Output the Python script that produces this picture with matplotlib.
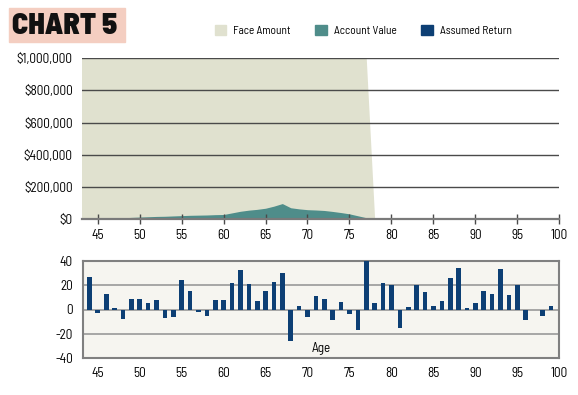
import matplotlib
matplotlib.use('Agg')
import matplotlib.pyplot as plt
from matplotlib.patches import Patch, Rectangle
from matplotlib.ticker import FuncFormatter

# Data
face_ages = list(range(43, 79))
face_amount = [1_000_000] * 35 + [0]

account_ages = list(range(43, 79))
account_value = [0, 0, 1000, 2000, 4000, 7000, 10000, 12000, 14000, 16000,
                 17000, 19000, 21000, 23000, 24000, 25000, 27000, 28000,
                 38000, 48000, 55000, 60000, 67000, 80000, 96000, 70000,
                 63000, 58000, 56000, 53000, 47000, 40000, 32000, 20000,
                 8000, 0]

return_ages = list(range(44, 100))
assumed_return = [27, -3, 13, 1.5, -8, 9, 9, 5, 8, -7,
                  -6, 24, 15, -2, -5, 8, 8, 22, 32, 21,
                  7, 15, 22.5, 30, -26, 3, -6, 11, 9, -9,
                  6, -4, -17, 40, 5, 22, 20, -15, 2, 20,
                  14, 3, 7, 26, 34, 1.5, 5, 15, 13, 33,
                  12, 20, -9, 0, -5, 3]

x_ticks = [45, 50, 55, 60, 65, 70, 75, 80, 85, 90, 95, 100]
top_yticks = [0, 200000, 400000, 600000, 800000, 1000000]
bottom_yticks = [-40, -20, 0, 20, 40]

# Colours
c_face = '#e0e1cf'
c_account = '#4f8d8a'
c_bar = '#0d3f74'
c_panel = '#f6f5f0'
c_title_bg = '#f4cec1'

plt.rcParams['font.family'] = ['Barlow Semi Condensed', 'Sofia Sans Condensed', 'DejaVu Sans']
plt.rcParams['font.size'] = 8
plt.rcParams['axes.unicode_minus'] = False
lab = 9.5

fig = plt.figure(figsize=(5.78, 3.95), dpi=100)
W, H = 578, 395


def axes_px(x0, y0, x1, y1):
    return fig.add_axes([x0 / W, 1 - y1 / H, (x1 - x0) / W, (y1 - y0) / H])


# Top chart
ax1 = axes_px(81.7, 58.3, 559.3, 219)
ax1.fill_between(face_ages, face_amount, color=c_face, lw=0, zorder=1)
ax1.fill_between(account_ages, account_value, color=c_account, lw=0, zorder=2)
ax1.set_xlim(43.1, 100)
ax1.set_ylim(0, 1_000_000)
ax1.set_xticks(x_ticks)
ax1.set_yticks(top_yticks)
ax1.yaxis.set_major_formatter(FuncFormatter(lambda v, p: '${:,.0f}'.format(v)))
ax1.set_axisbelow(False)
ax1.yaxis.grid(True, color='#4a4a4a', lw=1.0)
for s in ['left', 'right', 'top']:
    ax1.spines[s].set_visible(False)
ax1.spines['bottom'].set_color('#7a7a7a')
ax1.spines['bottom'].set_linewidth(1.6)
ax1.spines['bottom'].set_zorder(4)
ax1.tick_params(axis='y', length=0, pad=6.5, labelsize=lab)
ax1.tick_params(axis='x', direction='inout', length=7, width=1,
                color='#4a4a4a', pad=4, labelsize=lab)

# Bottom chart
ax2 = axes_px(82.7, 260.7, 559.3, 358.3)
ax2.set_facecolor(c_panel)
ax2.bar(return_ages, assumed_return, width=0.55, color=c_bar, zorder=3)
ax2.set_xlim(43.2, 100)
ax2.set_ylim(-40, 40)
ax2.set_xticks(x_ticks)
ax2.set_yticks(bottom_yticks)
ax2.set_axisbelow(True)
ax2.yaxis.grid(True, color='#999999', lw=1.2)
for s in ax2.spines.values():
    s.set_color('#808080')
    s.set_linewidth(1.5)
ax2.tick_params(axis='both', length=0, labelsize=lab)
ax2.tick_params(axis='y', pad=7)
ax2.tick_params(axis='x', pad=6)
ax2.text(71.6, -32, 'Age', ha='center', va='center', fontsize=lab)

# Title box
fig.patches.append(Rectangle((9 / W, 1 - 42 / H), 116 / W, 34 / H,
                             transform=fig.transFigure, color=c_title_bg,
                             zorder=0))
fig.text(65 / W, 1 - 25.5 / H, 'CHART 5', ha='center', va='center',
         fontsize=21.5, fontweight='black', color='#111111')

# Legend
handles = [Patch(color=c_face, label='Face Amount'),
           Patch(color=c_account, label='Account Value'),
           Patch(color=c_bar, label='Assumed Return')]
fig.legend(handles=handles, ncol=3, loc='center left',
           bbox_to_anchor=(210 / W, 1 - 30.5 / H), frameon=False,
           fontsize=8.2, handlelength=1.0, handleheight=1.0,
           handletextpad=0.6, columnspacing=2.2, borderaxespad=0)

fig.savefig('out.png', dpi=100)
